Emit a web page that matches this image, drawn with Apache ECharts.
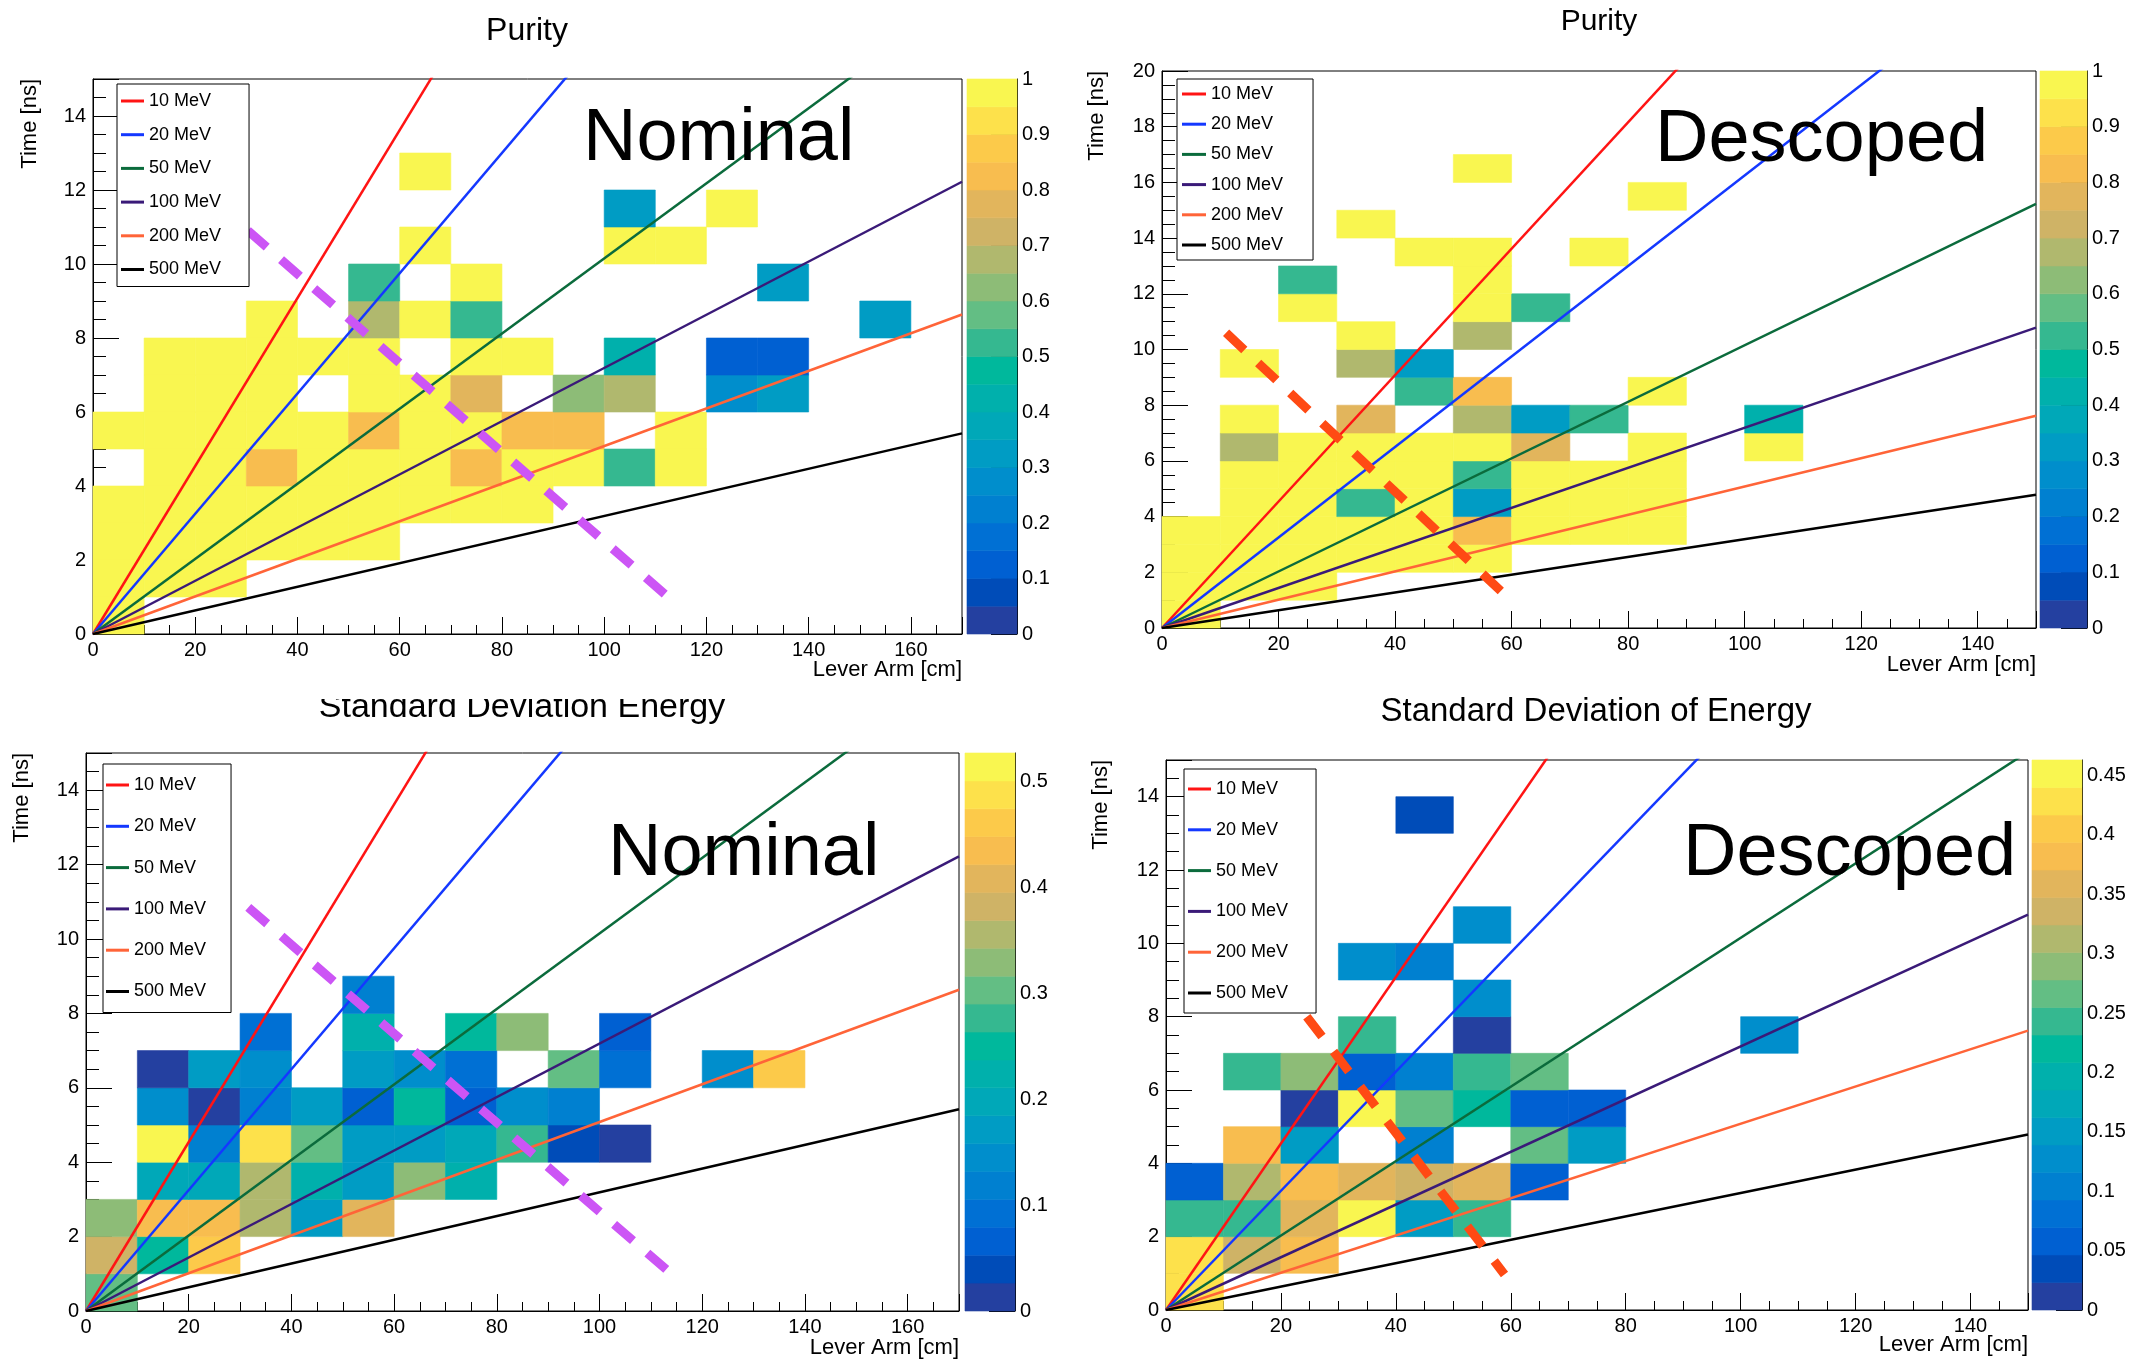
<!DOCTYPE html>
<html><head><meta charset="utf-8">
<script src="https://cdn.jsdelivr.net/npm/echarts@6/dist/echarts.min.js"></script>
<style>html,body{margin:0;padding:0;background:#fff}#c{width:2150px;height:1362px}</style>
</head><body><div id="c"></div>
<script>
const FONT = '"Liberation Sans", Arial, Helvetica, sans-serif';

// ---------------- data ----------------
const binWidthCm = 10;
const binHeightNs = 1;

const energyNames = ['10 MeV', '20 MeV', '50 MeV', '100 MeV', '200 MeV', '500 MeV'];
// time of flight at a lever arm of 100 cm (ns)
const tofAt100cm = [22.7, 16.25, 10.15, 7.19, 5.08, 3.19];

const panelTitles = ['Purity', 'Purity', 'Standard Deviation Energy', 'Standard Deviation of Energy'];
const panelLabels = ['Nominal', 'Descoped', 'Nominal', 'Descoped'];
const leverArmMax = [170, 150, 170, 150];
const timeMax = [15, 20, 15, 15];
const colorScaleMax = [1, 1, 0.527, 0.463];
const colorScaleStep = [0.1, 0.1, 0.1, 0.05];
const colorLevels = 20;

// [lever arm bin low edge (cm), time bin low edge (ns), value]
const purityNominal = [
  [0,0,1],
  [0,1,1],[10,1,1],[20,1,1],
  [0,2,1],[10,2,1],[20,2,1],[30,2,1],[40,2,1],[50,2,1],
  [0,3,1],[10,3,1],[20,3,1],[30,3,1],[40,3,1],[50,3,1],[60,3,1],[70,3,1],[80,3,1],
  [10,4,1],[20,4,1],[30,4,0.83],[40,4,1],[50,4,1],[60,4,1],[70,4,0.83],[80,4,1],[90,4,1],[100,4,0.53],[110,4,1],
  [0,5,1],[10,5,1],[20,5,1],[30,5,1],[40,5,1],[50,5,0.83],[60,5,1],[70,5,1],[80,5,0.83],[90,5,0.83],[110,5,1],
  [10,6,1],[20,6,1],[30,6,1],[50,6,1],[60,6,1],[70,6,0.78],[90,6,0.63],[100,6,0.68],[120,6,0.28],[130,6,0.33],
  [10,7,1],[20,7,1],[30,7,1],[40,7,1],[50,7,1],[70,7,1],[80,7,1],[100,7,0.43],[120,7,0.13],[130,7,0.13],
  [30,8,1],[50,8,0.68],[60,8,1],[70,8,0.53],[150,8,0.33],
  [50,9,0.53],[70,9,1],[130,9,0.33],
  [60,10,1],[100,10,1],[110,10,1],
  [100,11,0.33],[120,11,1],
  [60,12,1]
];
const purityDescoped = [
  [0,0,1],
  [0,1,1],[10,1,1],[20,1,1],
  [0,2,1],[10,2,1],[20,2,1],[30,2,1],[40,2,1],[50,2,1],
  [0,3,1],[10,3,1],[20,3,1],[30,3,1],[40,3,1],[50,3,0.83],[60,3,1],[70,3,1],[80,3,1],
  [10,4,1],[20,4,1],[30,4,0.53],[40,4,1],[50,4,0.33],[60,4,1],[70,4,1],[80,4,1],
  [10,5,1],[20,5,1],[30,5,1],[40,5,1],[50,5,0.53],[60,5,1],[70,5,1],[80,5,1],
  [10,6,0.68],[20,6,1],[30,6,1],[40,6,1],[50,6,1],[60,6,0.78],[80,6,1],[100,6,1],
  [10,7,1],[30,7,0.78],[50,7,0.68],[60,7,0.33],[70,7,0.53],[100,7,0.43],
  [40,8,0.53],[50,8,0.83],[80,8,1],
  [10,9,1],[30,9,0.68],[40,9,0.33],
  [30,10,1],[50,10,0.68],
  [20,11,1],[50,11,1],[60,11,0.53],
  [20,12,0.53],[50,12,1],
  [40,13,1],[50,13,1],[70,13,1],
  [30,14,1],
  [80,15,1],
  [50,16,1]
];
const stdDevNominal = [
  [0,0,0.303],
  [0,1,0.382],[10,1,0.250],[20,1,0.461],
  [0,2,0.329],[10,2,0.435],[20,2,0.435],[30,2,0.356],[40,2,0.171],[50,2,0.408],
  [10,3,0.198],[20,3,0.198],[30,3,0.356],[40,3,0.224],[50,3,0.171],[60,3,0.329],[70,3,0.224],
  [10,4,0.514],[20,4,0.119],[30,4,0.487],[40,4,0.303],[50,4,0.171],[60,4,0.171],[70,4,0.198],[80,4,0.277],[90,4,0.040],[100,4,0.013],
  [10,5,0.145],[20,5,0.013],[30,5,0.119],[40,5,0.171],[50,5,0.066],[60,5,0.250],[70,5,0.066],[80,5,0.145],[90,5,0.119],
  [10,6,0.013],[20,6,0.171],[30,6,0.145],[50,6,0.171],[60,6,0.145],[70,6,0.092],[90,6,0.303],[100,6,0.092],[120,6,0.145],[130,6,0.461],
  [30,7,0.092],[50,7,0.224],[70,7,0.250],[80,7,0.329],[100,7,0.066],
  [50,8,0.119]
];
const stdDevDescoped = [
  [0,0,0.428],
  [0,1,0.428],[10,1,0.336],[20,1,0.382],
  [0,2,0.243],[10,2,0.243],[20,2,0.359],[30,2,0.451],[40,2,0.150],[50,2,0.243],
  [0,3,0.058],[10,3,0.313],[20,3,0.382],[30,3,0.359],[40,3,0.336],[50,3,0.359],[60,3,0.050],
  [10,4,0.382],[20,4,0.150],[40,4,0.104],[60,4,0.266],[70,4,0.150],
  [20,5,0.012],[30,5,0.451],[40,5,0.266],[50,5,0.220],[60,5,0.058],[70,5,0.058],
  [10,6,0.243],[20,6,0.289],[30,6,0.058],[40,6,0.104],[50,6,0.243],[60,6,0.266],
  [30,7,0.243],[50,7,0.012],[100,7,0.127],
  [50,8,0.127],
  [30,9,0.127],[40,9,0.104],
  [50,10,0.127],
  [40,13,0.035]
];
const panelCells = [purityNominal, purityDescoped, stdDevNominal, stdDevDescoped];

// dashed guide lines [lever arm, time]
const cutNominalPurity = [[30.3, 10.9], [112.5, 1.0]];
const cutDescopedPurity = [[11.0, 10.6], [58.3, 1.3]];
const cutNominalStd = [[31.6, 10.85], [114.3, 0.96]];
const cutDescopedStd = [[24.5, 8.0], [58.9, 0.97]];
const panelCuts = [cutNominalPurity, cutDescopedPurity, cutNominalStd, cutDescopedStd];

// ---------------- styles / layout ----------------
const energyColors = ['#ff1414', '#1438ff', '#0b6b3c', '#3a1a78', '#ff6438', '#000000'];
const paletteColors = [
  '#2440a0', '#004cb8', '#0060d2', '#0070d4', '#0080d0', '#008ecc', '#009cc4', '#00a8b8', '#00b0ac', '#00b89c',
  '#35b890', '#63be84', '#8dbc77', '#b0b86e', '#cfb366', '#e2b55c', '#f8bd4f', '#fcca4a', '#fde14b', '#f9f650'
];
const cutColors = ['#cc55f5', '#ff4a14', '#cc55f5', '#ff4a14'];

const layout = [
  { grid: {left: 93, top: 79, width: 869, height: 555}, cbar: {left: 967, top: 79, width: 50, height: 555},
    legend: {left: 117, top: 84, itemGap: 15.7, padding: [8, 28, 8, 4], itemWidth: 23},
    title: [527, 31, 32], label: [583, 140], yName: [30, 79], xName: [962, 670] },
  { grid: {left: 1162, top: 71, width: 874, height: 557}, cbar: {left: 2040, top: 71, width: 47, height: 557},
    legend: {left: 1177, top: 79, itemGap: 12.2, padding: [6, 30, 6, 5], itemWidth: 24},
    title: [1599, 22, 30], label: [1655, 141], yName: [1097, 71], xName: [2036, 665] },
  { grid: {left: 86, top: 753, width: 873, height: 558}, cbar: {left: 965, top: 753, width: 50, height: 558},
    legend: {left: 103, top: 764, itemGap: 23.3, padding: [12, 25, 12, 3], itemWidth: 23},
    title: [522, 708, 34], label: [608, 855], yName: [22, 753], xName: [959, 1348] },
  { grid: {left: 1166, top: 760, width: 862, height: 550}, cbar: {left: 2032, top: 760, width: 50, height: 550},
    legend: {left: 1184, top: 769, itemGap: 22.8, padding: [11, 28, 11, 4], itemWidth: 23},
    title: [1596, 712, 33], label: [1683, 855], yName: [1101, 760], xName: [2028, 1345] }
];

function colorFor(v, zMax) {
  let k = Math.floor(v / zMax * colorLevels);
  if (k > colorLevels - 1) k = colorLevels - 1;
  if (k < 0) k = 0;
  return paletteColors[k];
}

const grids = [], xAxes = [], yAxes = [], series = [], legends = [], graphics = [];
const black = '#000';

layout.forEach((L, i) => {
  const zMax = colorScaleMax[i];
  grids.push(Object.assign({show: true, borderColor: black, borderWidth: 1, backgroundColor: '#fff', outerBoundsMode: 'none', containLabel: false}, L.grid));
  xAxes.push({
    gridIndex: i, type: 'value', min: 0, max: leverArmMax[i], interval: 20,
    axisLine: {show: true, onZero: false, lineStyle: {color: black, width: 1}},
    axisTick: {show: true, inside: true, length: 17, lineStyle: {color: black}},
    minorTick: {show: true, splitNumber: 4, length: 9, lineStyle: {color: black}},
    splitLine: {show: false}, minorSplitLine: {show: false},
    axisLabel: {fontSize: 20, fontFamily: FONT, color: black, margin: 6, showMaxLabel: false}
  });
  yAxes.push({
    gridIndex: i, type: 'value', min: 0, max: timeMax[i], interval: 2,
    axisLine: {show: true, onZero: false, lineStyle: {color: black, width: 1}},
    axisTick: {show: true, inside: true, length: 26, lineStyle: {color: black}},
    minorTick: {show: true, splitNumber: 4, length: 13, lineStyle: {color: black}},
    splitLine: {show: false}, minorSplitLine: {show: false},
    axisLabel: {fontSize: 20, fontFamily: FONT, color: black, margin: 7, showMaxLabel: timeMax[i] % 2 === 0}
  });

  // cells
  series.push({
    type: 'custom', xAxisIndex: i, yAxisIndex: i, z: 1, silent: true,
    data: panelCells[i],
    renderItem: function (params, api) {
      const x = api.value(0), y = api.value(1), v = api.value(2);
      const p0 = api.coord([x, y]);
      const p1 = api.coord([x + binWidthCm, y + binHeightNs]);
      const c = colorFor(v, zMax);
      return {type: 'rect',
        shape: {x: p0[0], y: p1[1], width: p1[0] - p0[0], height: p0[1] - p1[1]},
        style: {fill: c, stroke: c, lineWidth: 0.6}};
    }
  });
  // energy curves
  energyNames.forEach((name, k) => {
    const xm = leverArmMax[i];
    series.push({
      type: 'line', name: name, xAxisIndex: i, yAxisIndex: i, z: 3,
      showSymbol: false, symbol: 'none', clip: true, silent: true,
      itemStyle: {color: energyColors[k]},
      lineStyle: {color: energyColors[k], width: 2.5},
      data: [[0, 0], [xm, tofAt100cm[k] * xm / 100]]
    });
  });
  // dashed guide
  series.push({
    type: 'line', name: 'cut' + i, xAxisIndex: i, yAxisIndex: i, z: 4,
    showSymbol: false, symbol: 'none', silent: true,
    lineStyle: {color: cutColors[i], width: 9, type: [25, 19], cap: 'butt'},
    data: panelCuts[i]
  });

  legends.push({
    orient: 'vertical', left: L.legend.left, top: L.legend.top,
    itemWidth: L.legend.itemWidth, itemHeight: 3, itemGap: L.legend.itemGap,
    padding: L.legend.padding, icon: 'rect',
    borderColor: black, borderWidth: 1, backgroundColor: '#fff',
    selectedMode: false, z: 20,
    textStyle: {fontSize: 18, fontFamily: FONT, color: black},
    data: energyNames
  });

  graphics.push({type: 'text', x: L.title[0], y: L.title[1], z: 100,
    style: {text: panelTitles[i], font: L.title[2] + 'px ' + FONT, fill: black, textAlign: 'center', textVerticalAlign: 'middle', verticalAlign: 'middle'}});
  graphics.push({type: 'text', x: L.label[0], y: L.label[1], z: 100,
    style: {text: panelLabels[i], font: '74px ' + FONT, fill: black, textAlign: 'left', textVerticalAlign: 'middle', verticalAlign: 'middle'}});
  graphics.push({type: 'text', x: L.yName[0], y: L.yName[1], rotation: Math.PI / 2, z: 100,
    style: {text: 'Time [ns]', font: '22px ' + FONT, fill: black, textAlign: 'right', textVerticalAlign: 'middle', verticalAlign: 'middle'}});
  graphics.push({type: 'text', x: L.xName[0], y: L.xName[1], z: 100,
    style: {text: 'Lever Arm [cm]', font: '22px ' + FONT, fill: black, textAlign: 'right', textVerticalAlign: 'middle', verticalAlign: 'middle'}});
});
// the lower-left title is cropped at its top edge in the original figure
graphics.push({type: 'rect', x: 300, y: 664, z: 101, shape: {width: 450, height: 35}, style: {fill: '#fff'}});

layout.forEach((L, i) => {
  const ci = 4 + i;
  const zMax = colorScaleMax[i];
  grids.push(Object.assign({show: false, outerBoundsMode: 'none', containLabel: false}, L.cbar));
  xAxes.push({gridIndex: ci, type: 'value', min: 0, max: 1, show: false});
  yAxes.push({
    gridIndex: ci, type: 'value', position: 'right', min: 0, max: zMax, interval: colorScaleStep[i],
    axisLine: {show: true, onZero: false, lineStyle: {color: black, width: 1}},
    axisTick: {show: true, inside: true, length: 26, lineStyle: {color: black}},
    splitLine: {show: false},
    axisLabel: {fontSize: 20, fontFamily: FONT, color: black, margin: 5, showMaxLabel: i < 2}
  });
  const bands = [];
  for (let k = 0; k < colorLevels; k++) bands.push([k * zMax / colorLevels, (k + 1) * zMax / colorLevels, k]);
  series.push({
    type: 'custom', xAxisIndex: ci, yAxisIndex: ci, z: 1, silent: true, data: bands,
    renderItem: function (params, api) {
      const a = api.coord([0, api.value(0)]);
      const b = api.coord([1, api.value(1)]);
      const c = paletteColors[api.value(2)];
      return {type: 'rect', shape: {x: a[0], y: b[1], width: b[0] - a[0], height: a[1] - b[1]},
        style: {fill: c, stroke: c, lineWidth: 0.6}};
    }
  });
});

const chart = echarts.init(document.getElementById('c'), null, {renderer: 'canvas'});
chart.setOption({
  backgroundColor: '#fff',
  animation: false,
  grid: grids,
  xAxis: xAxes,
  yAxis: yAxes,
  legend: legends,
  series: series,
  graphic: graphics
});
</script></body></html>
